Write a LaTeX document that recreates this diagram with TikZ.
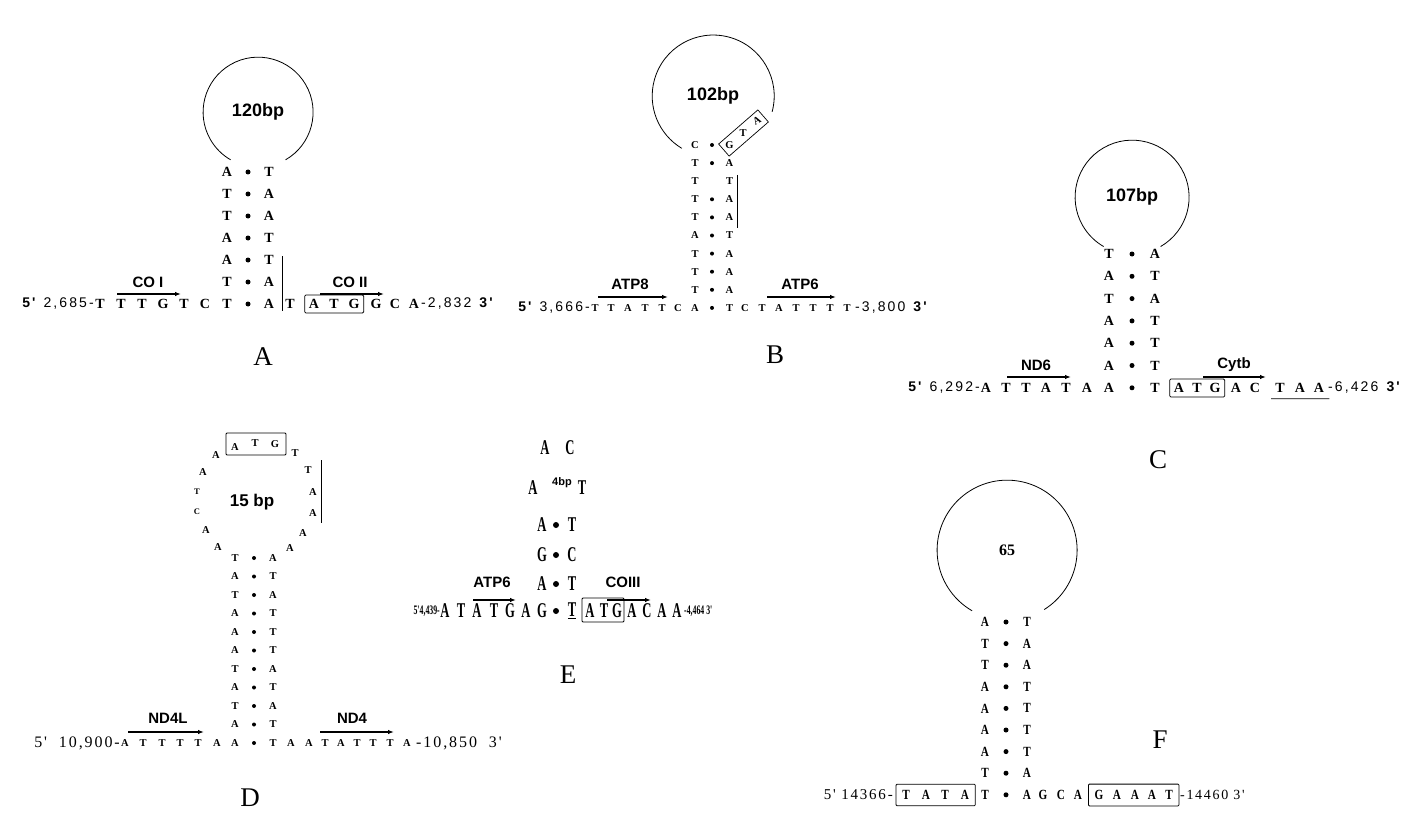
\documentclass[tikz,border=0pt]{standalone}
\usepackage{fontspec}
\setmainfont{Liberation Serif}
\newfontfamily\sansfam{Liberation Sans}
\newfontfamily\widesans[LetterSpace=15]{Liberation Sans}
\newfontfamily\wideserif[LetterSpace=12]{Liberation Serif}
\newfontfamily\condserif[FakeStretch=0.6]{Liberation Serif}
\newfontfamily\narrowserif[FakeStretch=0.8]{Liberation Serif}
\usetikzlibrary{arrows.meta,positioning,fit}

\begin{document}
\begin{tikzpicture}[
    x=1pt, y=1pt,
    nuc/.style={inner sep=0pt, font=\bfseries\fontsize{14}{14}\selectfont},
    smallnuc/.style={inner sep=0pt, font=\bfseries\fontsize{10.5}{10.5}\selectfont},
    tinynuc/.style={inner sep=0pt, font=\bfseries\fontsize{8.5}{8.5}\selectfont},
    condnuc/.style={inner sep=0pt, font=\condserif\bfseries\fontsize{21}{21}\selectfont},
    narrownuc/.style={inner sep=0pt, font=\narrowserif\bfseries\fontsize{14}{14}\selectfont},
    pair/.style={circle, fill, inner sep=0pt, minimum size=5pt},
    smallpair/.style={pair, minimum size=4pt},
    gene/.style={inner sep=0pt, font=\sansfam\bfseries\fontsize{15}{15}\selectfont},
    coordtxt/.style={inner sep=0pt, font=\widesans\fontsize{14}{14}\selectfont},
    serifcoord/.style={inner sep=0pt, font=\wideserif\fontsize{16}{16}\selectfont},
    condcoord/.style={inner sep=0pt, font=\condserif\bfseries\fontsize{13}{13}\selectfont},
    hairpin/.style={circle, inner sep=0pt, font=\sansfam\bfseries\fontsize{18}{18}\selectfont},
    panel/.style={inner sep=0pt, font=\fontsize{27}{27}\selectfont},
    genearrow/.style={-{Latex[length=6pt,width=4.5pt]}, line width=1.5pt},
    looparc/.style={line width=0.8pt},
    sideline/.style={line width=0.8pt},
    startbox/.style={draw, rounded corners=1pt, line width=0.8pt, inner sep=4pt}
  ]
  \path[use as bounding box] (0,0) rectangle (1418,-829);

  % A: CO I / CO II
  \node[hairpin, minimum size=110pt] (aloop) at (258,-112) {120bp};
  \draw[looparc] (aloop.300) arc[start angle=300, end angle=600, radius=55pt];
  \foreach \l/\r [count=\i] in {A/T,T/A,T/A,A/T,A/T,T/A,T/A} {
    \node[nuc] (aL\i) at (227,{-172-22*(\i-1)}) {\l};
    \node[pair] (aD\i) at (248,{-172-22*(\i-1)}) {};
    \node[nuc] (aR\i) at (269,{-172-22*(\i-1)}) {\r};
  }
  \node[coordtxt, anchor=east] (a5) at (94,-304) {\textbf{5'} 2,685-};
  \foreach \x/\b [count=\i] in {100/T,121/T,142/T,163/G,184/T,205/C}
    \node[nuc] (aB\i) at (\x,-304) {\b};
  \foreach \x/\b [count=\i] in {290/T,314/A,334/T,354/G,376/G,395/C,414/A}
    \node[nuc] (aE\i) at (\x,-304) {\b};
  \node[startbox, fit=(aE2)(aE4)] (aATG) {};
  \node[coordtxt, anchor=west] (a3) at (421,-304) {-2,832 \textbf{3'}};
  \coordinate (coiS) at (117,-294);
  \coordinate (coiE) at (181,-294);
  \draw[genearrow] (coiS) -- (coiE);
  \node[gene] (coi) at (148,-282) {CO I};
  \coordinate (coiiS) at (320,-294);
  \coordinate (coiiE) at (384,-294);
  \draw[genearrow] (coiiS) -- (coiiE);
  \node[gene] (coii) at (350,-282) {CO II};
  \coordinate (aT1) at (282,-256);
  \coordinate (aT2) at (282,-311);
  \draw[sideline] (aT1) -- (aT2);
  \node[panel] (pA) at (263,-357) {A};

  % B: ATP8 / ATP6
  \node[hairpin, minimum size=122pt] (bloop) at (713,-96) {102bp};
  \draw[looparc] (bloop.-15) arc[start angle=-15, end angle=239, radius=61pt];
  \foreach \l/\r/\d [count=\i] in {C/G/1,T/A/1,T/T/0,T/A/1,T/A/1,A/T/1,T/A/1,T/A/1,T/A/1,A/T/1} {
    \node[smallnuc] (bL\i) at (695,{-145-18.1*(\i-1)}) {\l};
    \ifnum\d=1 \node[smallpair] (bD\i) at (712,{-145-18.1*(\i-1)}) {};\fi
    \node[smallnuc] (bR\i) at (729.5,{-145-18.1*(\i-1)}) {\r};
  }
  \node[draw, rotate=41, minimum width=52pt, minimum height=16pt, inner sep=0pt, line width=0.7pt] (bGTA) at (743.5,-133) {};
  \node[smallnuc] (bT) at (743,-133) {T};
  \node[smallnuc, rotate=30] (bA) at (757,-121) {A};
  \node[coordtxt, anchor=east] (b5) at (590,-308) {\textbf{5'} 3,666-};
  \foreach \x/\b [count=\i] in {595/T,611/T,628/A,645/T,662/T,678/C}
    \node[smallnuc] (bB\i) at (\x,-308) {\b};
  \foreach \x/\b [count=\i] in {745/C,762/T,779/A,796/T,813/T,830/T,847/T}
    \node[smallnuc] (bE\i) at (\x,-308) {\b};
  \node[coordtxt, anchor=west] (b3) at (855,-308) {-3,800 \textbf{3'}};
  \coordinate (atp8S) at (598,-297);
  \coordinate (atp8E) at (668,-297);
  \draw[genearrow] (atp8S) -- (atp8E);
  \node[gene] (atp8) at (630,-284) {ATP8};
  \coordinate (atp6S) at (767,-297);
  \coordinate (atp6E) at (836,-297);
  \draw[genearrow] (atp6S) -- (atp6E);
  \node[gene] (atp6) at (800,-284) {ATP6};
  \coordinate (bT1) at (737,-175);
  \coordinate (bT2) at (737,-228);
  \draw[sideline] (bT1) -- (bT2);
  \node[panel] (pB) at (775,-355) {B};

  % C: ND6 / Cytb
  \node[hairpin, minimum size=114pt] (cloop) at (1132,-197) {107bp};
  \draw[looparc] (cloop.300) arc[start angle=300, end angle=600, radius=57pt];
  \foreach \l/\r [count=\i] in {T/A,A/T,T/A,A/T,A/T,A/T,A/T} {
    \node[nuc] (cL\i) at (1109,{-254-22.3*(\i-1)}) {\l};
    \node[pair] (cD\i) at (1132,{-254-22.3*(\i-1)}) {};
    \node[nuc] (cR\i) at (1155,{-254-22.3*(\i-1)}) {\r};
  }
  \node[coordtxt, anchor=east] (c5) at (980,-388) {\textbf{5'} 6,292-};
  \foreach \x/\b [count=\i] in {986/A,1006/T,1026/T,1046/A,1066/T,1087/A}
    \node[nuc] (cB\i) at (\x,-388) {\b};
  \foreach \x/\b [count=\i] in {1179/A,1197/T,1215/G,1236/A,1255/C,1280/T,1300/A,1319/A}
    \node[nuc] (cE\i) at (\x,-388) {\b};
  \node[startbox, fit=(cE1)(cE3)] (cATG) {};
  \draw[sideline] ([xshift=-4pt,yshift=-6pt]cE6.south west) -- ([xshift=5pt,yshift=-6pt]cE8.south east);
  \node[coordtxt, anchor=west] (c3) at (1328,-388) {-6,426 \textbf{3'}};
  \coordinate (nd6S) at (1007,-377);
  \coordinate (nd6E) at (1071,-377);
  \draw[genearrow] (nd6S) -- (nd6E);
  \node[gene] (nd6) at (1036,-365) {ND6};
  \coordinate (cytbS) at (1203,-377);
  \coordinate (cytbE) at (1266,-377);
  \draw[genearrow] (cytbS) -- (cytbE);
  \node[gene] (cytb) at (1234,-365) {Cytb};
  \node[panel] (pC) at (1158,-460) {C};

  % D: ND4L / ND4
  \node[gene, font=\sansfam\bfseries\fontsize{17}{17}\selectfont] (dbp) at (252,-502) {15 bp};
  \node[startbox, minimum width=60pt, minimum height=22pt, inner sep=0pt] (dATG) at (256,-444) {};
  \foreach \x/\y/\b [count=\i] in {235/447/A,255/443/T,275/444/G}
    \node[smallnuc] (dG\i) at (\x,-\y) {\b};
  \foreach \x/\y/\b [count=\i] in {216/455/A,203/472/A,206/530/A,218/547/A}
    \node[smallnuc] (dW\i) at (\x,-\y) {\b};
  \node[tinynuc] (dT) at (197,-492) {T};
  \node[tinynuc] (dC) at (197,-512) {C};
  \foreach \x/\y/\b [count=\i] in {295/453/T,308/470/T,313/492/A,313/513/A,303/533/A,290/548/A}
    \node[smallnuc] (dO\i) at (\x,-\y) {\b};
  \coordinate (dT1) at (321,-460);
  \coordinate (dT2) at (321,-523);
  \draw[sideline] (dT1) -- (dT2);
  \foreach \l/\r [count=\i] in {T/A,A/T,T/A,A/T,A/T,A/T,T/A,A/T,T/A,A/T,A/T} {
    \node[smallnuc] (dL\i) at (235,{-558-18.5*(\i-1)}) {\l};
    \node[smallpair] (dD\i) at (254,{-558-18.5*(\i-1)}) {};
    \node[smallnuc] (dR\i) at (273,{-558-18.5*(\i-1)}) {\r};
  }
  \node[serifcoord, anchor=east] (d5) at (120,-743) {5'\ \ 10,900-};
  \foreach \x/\b [count=\i] in {125/A,143/T,162/T,180/T,198/T,217/A}
    \node[smallnuc] (dB\i) at (\x,-743) {\b};
  \foreach \x/\b [count=\i] in {291/A,309/A,325/T,341/A,357/T,373/T,390/T,407/A}
    \node[smallnuc] (dE\i) at (\x,-743) {\b};
  \node[serifcoord, anchor=west] (d3) at (416,-743) {-10,850\ \ 3'};
  \coordinate (nd4lS) at (128,-732);
  \coordinate (nd4lE) at (204,-732);
  \draw[genearrow] (nd4lS) -- (nd4lE);
  \node[gene] (nd4l) at (168,-718) {ND4L};
  \coordinate (nd4S) at (320,-732);
  \coordinate (nd4E) at (394,-732);
  \draw[genearrow] (nd4S) -- (nd4E);
  \node[gene] (nd4) at (352,-718) {ND4};
  \node[panel] (pD) at (250,-798) {D};

  % E: ATP6 / COIII
  \node[condnuc] (eA1) at (545,-448) {A};
  \node[condnuc] (eC1) at (570,-448) {C};
  \node[condnuc] (eA2) at (533,-488) {A};
  \node[condnuc] (eT2) at (582,-488) {T};
  \node[inner sep=0pt, font=\sansfam\bfseries\fontsize{11}{11}\selectfont] (ebp) at (562,-483) {4bp};
  \foreach \l/\r/\y [count=\i] in {A/T/525,G/C/555,A/T/584} {
    \node[condnuc] (eL\i) at (542,-\y) {\l};
    \node[pair, minimum width=4pt, minimum height=6pt] (eD\i) at (556,-\y) {};
    \node[condnuc] (eR\i) at (572,-\y) {\r};
  }
  \node[condnuc] (eL4) at (542,-611) {G};
  \node[pair, minimum width=4pt, minimum height=6pt] (eD4) at (556,-611) {};
  \node[condnuc] (eR4) at (572,-611) {\underline{T}};
  \node[condcoord, anchor=east] (e5) at (440,-611) {5'4,439-};
  \foreach \x/\b [count=\i] in {445/A,461/T,477/A,494/T,510/G,526/A}
    \node[condnuc] (eB\i) at (\x,-611) {\b};
  \foreach \x/\b [count=\i] in {590/A,604/T,617/G,632/A,647/C,662/A,677/A}
    \node[condnuc] (eE\i) at (\x,-611) {\b};
  \node[startbox, minimum width=42pt, minimum height=24pt, inner sep=0pt] (eATG) at (603,-610) {};
  \node[condcoord, anchor=west] (e3) at (684,-611) {-4,464 3'};
  \coordinate (eatpS) at (473,-600);
  \coordinate (eatpE) at (516,-600);
  \draw[genearrow] (eatpS) -- (eatpE);
  \node[gene] (eatp) at (492,-582) {ATP6};
  \coordinate (coiiiS) at (607,-600);
  \coordinate (coiiiE) at (651,-600);
  \draw[genearrow] (coiiiS) -- (coiiiE);
  \node[gene] (coiii) at (623,-582) {COIII};
  \node[panel] (pE) at (568,-675) {E};

  % F
  \node[hairpin, minimum size=140pt, font=\bfseries\fontsize{16}{16}\selectfont] (floop) at (1007,-550) {65};
  \draw[looparc] (floop.302) arc[start angle=302, end angle=600, radius=70pt];
  \foreach \l/\r [count=\i] in {A/T,T/A,T/A,A/T,A/T,A/T,A/T,T/A,T/A} {
    \node[narrownuc] (fL\i) at (985,{-622-21.6*(\i-1)}) {\l};
    \node[pair] (fD\i) at (1006,{-622-21.6*(\i-1)}) {};
    \node[narrownuc] (fR\i) at (1027,{-622-21.6*(\i-1)}) {\r};
  }
  \node[serifcoord, anchor=east, font=\wideserif\fontsize{15}{15}\selectfont] (f5) at (893,-795) {5' 14366-};
  \foreach \x/\b [count=\i] in {906/T,926/A,945/T,965/A}
    \node[narrownuc] (fB\i) at (\x,-795) {\b};
  \foreach \x/\b [count=\i] in {1043/G,1061/C,1078/A,1099/G,1117/A,1135/A,1152/A,1169/T}
    \node[narrownuc] (fE\i) at (\x,-795) {\b};
  \node[startbox, inner sep=6pt, fit=(fB1)(fB4)] (fTATA) {};
  \node[startbox, inner sep=6pt, fit=(fE4)(fE8)] (fGAAAT) {};
  \node[serifcoord, anchor=west, font=\wideserif\fontsize{14}{14}\selectfont] (f3) at (1180,-795) {-14460 3'};
  \node[panel] (pF) at (1160,-740) {F};
\end{tikzpicture}
\end{document}
